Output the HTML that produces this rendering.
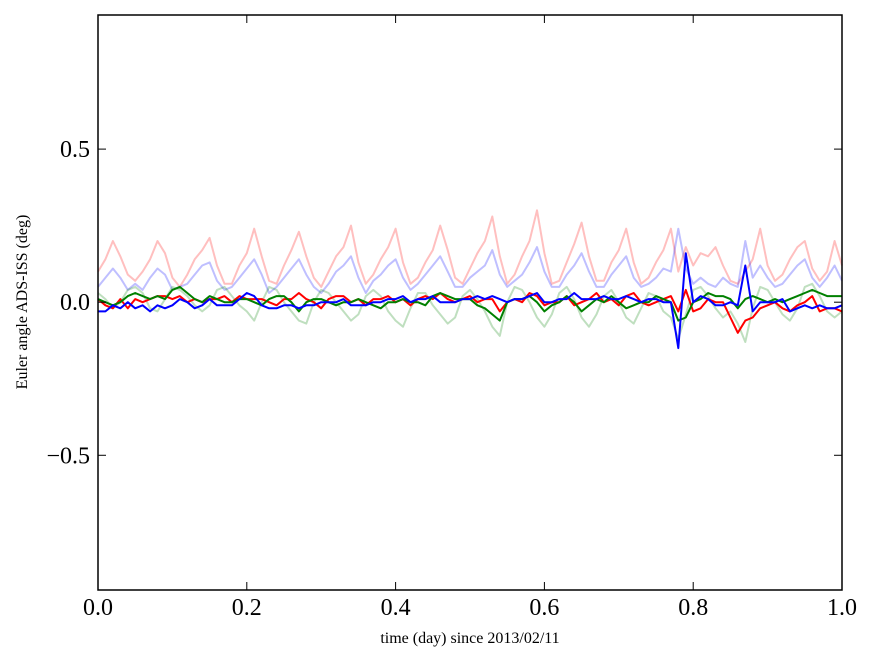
<!DOCTYPE html>
<html><head><meta charset="utf-8"><style>
body{margin:0;background:#fff}
svg{display:block;font-family:"Liberation Serif",serif}
</style></head><body>
<svg id="chart" width="875" height="662">
<rect x="0" y="0" width="875" height="662" fill="#fff"/>
<g id="series"></g>
<rect x="98" y="15" width="744" height="575" fill="none" stroke="#000" stroke-width="1.5"/>
<g id="ticks"></g>
<text x="470" y="643" text-anchor="middle" font-size="16">time (day) since 2013/02/11</text>
<text transform="translate(27,302) rotate(-90)" text-anchor="middle" font-size="16">Euler angle ADS-ISS (deg)</text>
</svg>
<script>
const xTicks=[0,0.2,0.4,0.6,0.8,1.0];
const xTickLabels=["0.0","0.2","0.4","0.6","0.8","1.0"];
const yTicks=[0.5,0,-0.5];
const yTickLabels=["0.5","0.0","\u22120.5"];
const lightRed=[0.10,0.14,0.20,0.15,0.09,0.07,0.10,0.14,0.20,0.16,0.08,0.05,0.09,0.14,0.17,0.21,0.12,0.06,0.06,0.12,0.16,0.24,0.15,0.07,0.06,0.12,0.17,0.23,0.15,0.08,0.05,0.10,0.15,0.18,0.25,0.13,0.06,0.09,0.14,0.18,0.24,0.13,0.06,0.08,0.13,0.17,0.25,0.17,0.08,0.06,0.11,0.16,0.20,0.28,0.15,0.06,0.09,0.15,0.20,0.30,0.16,0.06,0.07,0.13,0.19,0.26,0.15,0.07,0.07,0.13,0.17,0.24,0.13,0.06,0.08,0.13,0.17,0.24,0.10,0.18,0.12,0.16,0.15,0.18,0.12,0.07,0.06,0.10,0.14,0.24,0.12,0.07,0.09,0.14,0.18,0.20,0.11,0.07,0.10,0.20,0.12];
const lightBlue=[0.05,0.08,0.11,0.08,0.04,0.06,0.04,0.08,0.11,0.09,0.04,0.05,0.06,0.09,0.12,0.13,0.07,0.04,0.05,0.08,0.11,0.14,0.09,0.03,0.05,0.08,0.11,0.14,0.09,0.05,0.03,0.06,0.10,0.12,0.15,0.08,0.03,0.07,0.09,0.12,0.14,0.08,0.04,0.06,0.09,0.12,0.15,0.10,0.05,0.05,0.08,0.10,0.12,0.17,0.09,0.05,0.07,0.09,0.13,0.18,0.10,0.05,0.05,0.09,0.12,0.16,0.10,0.05,0.05,0.09,0.12,0.15,0.08,0.05,0.06,0.08,0.11,0.10,0.24,0.11,0.06,0.08,0.06,0.05,0.08,0.06,0.05,0.20,0.08,0.12,0.08,0.05,0.06,0.09,0.12,0.14,0.08,0.05,0.08,0.12,0.07];
const lightGreen=[0.03,0.01,-0.02,0.00,0.04,0.05,0.03,-0.02,-0.03,0.01,0.05,0.04,0.02,-0.01,-0.03,-0.01,0.04,0.05,0.02,-0.01,-0.03,-0.06,0.00,0.05,0.04,0.00,-0.03,-0.06,-0.07,0.00,0.04,0.03,0.00,-0.03,-0.06,-0.04,0.02,0.04,0.02,-0.03,-0.06,-0.08,-0.02,0.03,0.03,-0.01,-0.04,-0.07,-0.05,0.02,0.04,0.01,-0.03,-0.08,-0.11,0.00,0.05,0.04,0.00,-0.05,-0.08,-0.04,0.03,0.05,0.01,-0.05,-0.08,-0.04,0.02,0.04,0.00,-0.05,-0.07,-0.02,0.03,0.02,-0.03,-0.05,-0.12,-0.04,0.04,0.05,0.02,-0.02,-0.05,-0.03,-0.07,-0.13,-0.02,0.05,0.04,0.00,-0.04,-0.06,-0.02,0.05,0.06,0.02,-0.03,-0.05,-0.03];
const red=[0.01,-0.01,-0.02,0.01,-0.02,0.01,0.00,0.01,0.02,0.02,0.01,0.02,0.00,0.01,0.00,0.01,0.01,0.02,0.00,0.02,0.01,0.01,0.01,0.00,-0.01,0.01,0.01,0.03,0.01,0.00,-0.02,0.01,0.02,0.02,0.00,0.01,-0.01,0.01,0.01,0.02,0.00,0.01,-0.01,0.01,0.02,0.01,0.03,0.01,0.00,0.01,0.02,0.00,0.01,0.01,-0.03,0.00,0.01,0.00,0.03,0.02,-0.01,0.00,0.00,0.02,-0.01,0.00,0.01,0.03,0.00,0.01,-0.01,0.02,0.03,0.00,-0.01,0.00,0.01,0.02,-0.03,0.04,-0.03,-0.02,0.01,0.00,0.00,-0.05,-0.10,-0.06,-0.05,-0.02,-0.01,0.00,-0.02,-0.03,-0.01,0.00,0.02,-0.03,-0.02,-0.02,-0.03];
const green=[0.01,0.00,-0.01,0.00,0.02,0.03,0.02,0.01,0.02,0.01,0.04,0.05,0.03,0.01,0.00,0.02,0.01,0.00,0.00,0.01,0.01,0.00,-0.01,0.01,0.02,0.02,0.00,-0.03,0.00,0.01,0.01,0.00,-0.01,0.00,0.00,0.01,0.00,-0.01,-0.02,0.00,0.00,0.01,0.00,0.00,-0.01,0.02,0.03,0.02,0.01,0.01,0.01,-0.01,-0.02,-0.04,-0.06,0.00,0.01,0.01,0.02,0.00,-0.03,-0.01,0.00,0.02,0.00,-0.03,-0.01,0.01,0.00,0.02,0.00,-0.02,-0.01,0.00,0.00,0.02,0.01,0.00,-0.06,-0.05,0.00,0.01,0.03,0.02,0.02,0.01,-0.02,0.01,0.02,0.01,0.00,0.01,0.00,0.01,0.02,0.03,0.04,0.03,0.02,0.02,0.02];
const blue=[-0.03,-0.03,-0.01,-0.02,0.00,-0.02,-0.01,-0.03,-0.01,-0.02,-0.01,0.01,0.00,-0.02,-0.01,0.01,-0.01,-0.01,-0.01,0.01,0.03,0.02,-0.01,-0.02,-0.02,-0.01,-0.01,-0.02,-0.01,-0.01,0.00,0.00,0.00,0.01,-0.01,-0.01,-0.01,0.00,0.00,0.01,0.01,0.02,0.00,0.01,0.01,0.02,0.00,0.00,0.00,0.01,0.01,0.02,0.01,0.02,0.01,0.00,0.01,0.01,0.02,0.03,0.00,0.00,0.01,0.01,0.03,0.01,0.01,0.01,0.02,0.01,0.01,0.02,0.01,0.00,0.01,0.01,0.00,0.00,-0.15,0.16,0.00,0.02,0.01,-0.01,-0.01,0.00,-0.01,0.12,-0.03,0.00,0.00,0.00,0.01,-0.03,-0.02,-0.01,-0.02,-0.01,-0.02,-0.02,-0.01];

const X0=98,X1=842,Y0=15,Y1=590,YMIN=-0.94,YMAX=0.938;
function sx(v){return X0+v*(X1-X0);}
function sy(v){return Y1-(v-YMIN)/(YMAX-YMIN)*(Y1-Y0);}
const NS="http://www.w3.org/2000/svg";
const sg=document.getElementById('series');
function draw(arr,color,op,name){
  const n=arr.length;
  const d=arr.map((v,i)=>(i?'L':'M')+sx(i/(n-1)).toFixed(1)+' '+sy(v).toFixed(1)).join(' ');
  const p=document.createElementNS(NS,'path');
  p.setAttribute('d',d);p.setAttribute('fill','none');p.setAttribute('stroke',color);
  p.setAttribute('stroke-width','2');p.setAttribute('stroke-opacity',op);p.setAttribute('stroke-linejoin','round');
  
  
  sg.appendChild(p);
}
draw(lightRed,'#ff0000',0.25,'series-light-red');
draw(lightBlue,'#0000ff',0.25,'series-light-blue');
draw(lightGreen,'#008000',0.25,'series-light-green');
draw(red,'#ff0000',1,'series-red');
draw(green,'#008000',1,'series-green');
draw(blue,'#0000ff',1,'series-blue');
const tg=document.getElementById('ticks');
function line(x1,y1,x2,y2){const l=document.createElementNS(NS,'line');l.setAttribute('x1',x1);l.setAttribute('y1',y1);l.setAttribute('x2',x2);l.setAttribute('y2',y2);l.setAttribute('stroke','#000');l.setAttribute('stroke-width','1');


tg.appendChild(l);}
function txt(x,y,s,anchor){const t=document.createElementNS(NS,'text');t.setAttribute('x',x);t.setAttribute('y',y);t.setAttribute('text-anchor',anchor);t.setAttribute('font-size','24');t.textContent=s;


tg.appendChild(t);}
xTicks.forEach((v,i)=>{const x=sx(v);line(x,Y1,x,Y1-8);line(x,Y0,x,Y0+8);txt(x,615,xTickLabels[i],'middle');});
yTicks.forEach((v,i)=>{const y=sy(v);line(X0,y,X0+8,y);line(X1,y,X1-8,y);txt(90,y+8,yTickLabels[i],'end');});
</script>
</body></html>
